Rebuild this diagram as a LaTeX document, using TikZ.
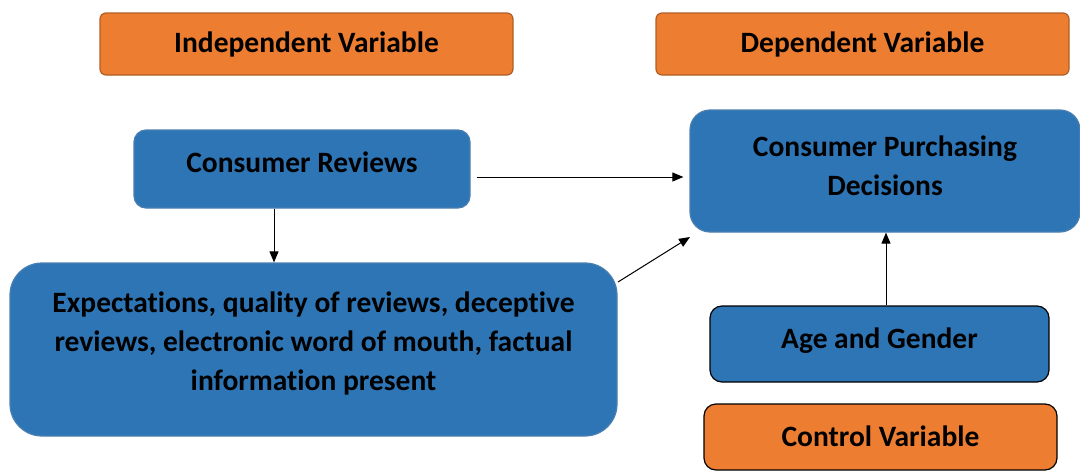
\documentclass[tikz,border=0pt]{standalone}
\usepackage{fontspec}
\setmainfont[Ligatures={NoCommon}]{Carlito}
\usetikzlibrary{arrows.meta}
\definecolor{orfill}{HTML}{ED7D31}
\definecolor{ordraw}{HTML}{B05F26}
\definecolor{blfill}{HTML}{2E75B6}
\definecolor{bldraw}{HTML}{4A7FB0}
\tikzset{
  box/.style={rectangle, align=center, font=\fontsize{29.5}{39}\selectfont\bfseries, text=black, inner sep=0pt, line width=1.2pt},
  orbox/.style={box, fill=orfill, draw=ordraw},
  blbox/.style={box, fill=blfill, draw=bldraw},
  conn/.style={-{Triangle[length=11pt,width=9pt]}, line width=1pt, black},
}
\begin{document}
\begin{tikzpicture}[x=1pt,y=-1pt]
\useasboundingbox (0,0) rectangle (1080,471);
\node[orbox, rounded corners=6pt, minimum width=413pt, minimum height=62pt, text depth=4pt] (iv) at (306.5,44) {Independent Variable};
\node[orbox, rounded corners=6pt, minimum width=413pt, minimum height=62pt, text depth=4pt] (dv) at (862.5,44) {Dependent Variable};
\node[blbox, rounded corners=12pt, minimum width=336pt, minimum height=78pt, text depth=13pt] (cr) at (302,169) {Consumer Reviews};
\node[blbox, rounded corners=20pt, minimum width=390pt, minimum height=122pt, text depth=10pt] (cpd) at (885,171) {Consumer Purchasing\\Decisions};
\node[blbox, rounded corners=32pt, minimum width=607pt, minimum height=173pt, text depth=16pt] (ex) at (313.5,349.5) {Expectations, quality of reviews, deceptive\\reviews, electronic word of mouth, factual\\information present};
\node[box, fill=blfill, draw=black, rounded corners=12pt, minimum width=339pt, minimum height=76pt, text depth=12pt] (ag) at (879.5,344) {Age and Gender};
\node[box, fill=orfill, draw=black, rounded corners=12pt, minimum width=353pt, minimum height=66pt, text depth=2pt] (cv) at (880.5,437) {Control Variable};
\draw[conn] ([xshift=6pt]cr.east |- 0,177) -- ([xshift=-6pt]cpd.west |- 0,177);
\draw[conn] (cr.south -| 274,0) -- (ex.north -| 274,0);
\draw[conn] (618,282) -- (690,237);
\draw[conn] (ag.north -| 886,0) -- (cpd.south -| 886,0);
\end{tikzpicture}
\end{document}
